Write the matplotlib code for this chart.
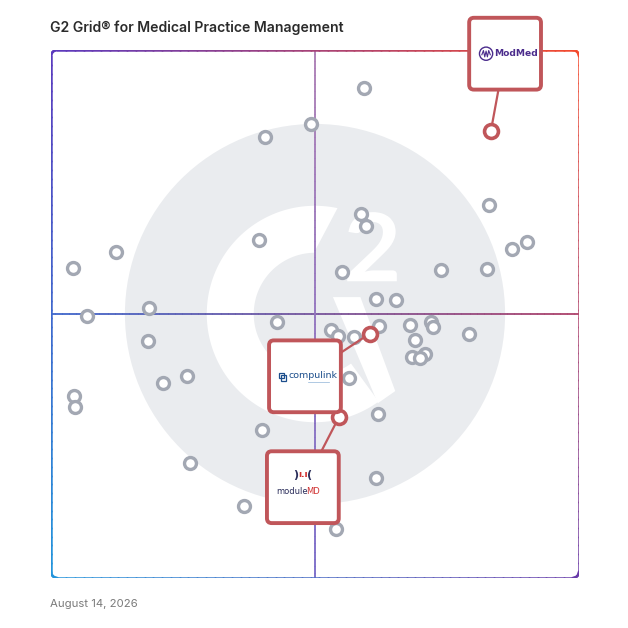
import numpy as np
import matplotlib
matplotlib.use("Agg")
import matplotlib.pyplot as plt
from matplotlib.collections import LineCollection
from matplotlib.patches import Circle, Polygon, FancyBboxPatch, PathPatch, Rectangle
from matplotlib.textpath import TextPath
from matplotlib.font_manager import FontProperties
from matplotlib.transforms import Affine2D

# grid scores, x = satisfaction, y = market presence (0-100)
other_x = [59.3, 49.2, 40.5, 83.0, 58.7, 59.7, 39.4, 12.3, 90.2, 87.3, 4.2,
           55.1, 73.9, 82.6, 61.6, 65.3, 18.6, 6.8, 42.8, 62.1, 53.0, 54.4,
           57.4, 68.0, 72.0, 72.3, 79.2, 68.9, 18.4, 70.8, 68.4, 69.9, 56.4,
           25.8, 21.2, 4.4, 4.5, 61.9, 40.0, 26.3, 61.6, 36.6, 54.0]
other_y = [92.8, 86.0, 83.5, 70.6, 68.9, 66.6, 64.1, 61.7, 63.6, 62.4, 58.8,
           57.9, 58.3, 58.6, 52.9, 52.6, 51.2, 49.7, 48.4, 47.8, 46.9, 45.9,
           45.7, 48.0, 48.4, 47.6, 46.3, 45.0, 44.8, 42.5, 41.9, 41.6, 37.8,
           38.3, 37.0, 34.5, 32.4, 31.1, 28.1, 21.8, 19.0, 13.7, 9.3]

featured_names = ["ModMed", "compulink", "moduleMD"]
featured_x = [83.3, 60.4, 54.5]
featured_y = [84.6, 46.3, 30.4]

title = "G2 Grid\u00ae for Medical Practice Management"
date_label = "August 14, 2026"

# logo card centres (layout only)
card_pos = [(86.0, 99.3), (48.1, 38.2), (47.7, 17.2)]
card_size = 13.6

RED = "#c0565a"
GREY_DOT = "#a3a8b3"

TL = np.array([92, 58, 190]) / 255
TR = np.array([245, 75, 45]) / 255
BL = np.array([35, 150, 220]) / 255
BR = np.array([105, 60, 170]) / 255


def corner_mix(u, v):
    u = np.clip(u, 0, 1)[:, None]
    v = np.clip(v, 0, 1)[:, None]
    return TL * (1 - u) * v + TR * u * v + BL * (1 - u) * (1 - v) + BR * u * (1 - v)


def rounded_rect(x0, y0, x1, y1, r, n=60):
    pts = []
    def arc(cx, cy, a0, a1):
        t = np.radians(np.linspace(a0, a1, 12))
        return list(zip(cx + r * np.cos(t), cy + r * np.sin(t)))
    def edge(p, q):
        return list(zip(np.linspace(p[0], q[0], n), np.linspace(p[1], q[1], n)))
    pts += edge((x0 + r, y1), (x1 - r, y1))
    pts += arc(x1 - r, y1 - r, 90, 0)
    pts += edge((x1, y1 - r), (x1, y0 + r))
    pts += arc(x1 - r, y0 + r, 0, -90)
    pts += edge((x1 - r, y0), (x0 + r, y0))
    pts += arc(x0 + r, y0 + r, -90, -180)
    pts += edge((x0, y0 + r), (x0, y1 - r))
    pts += arc(x0 + r, y1 - r, 180, 90)
    return np.array(pts)


def gradient_line(ax, pts, colors, lw, alpha=1.0, z=2):
    segs = np.stack([pts[:-1], pts[1:]], axis=1)
    lc = LineCollection(segs, colors=colors[:-1], linewidths=lw, alpha=alpha,
                        zorder=z, capstyle="round")
    ax.add_collection(lc)


def draw_g2_logo(ax, cx=50, cy=50):
    ax.add_patch(Circle((cx, cy), 36, color="#eaecef", lw=0, zorder=0))
    # the "G": open ring plus diagonal leg
    t_out = np.radians(np.linspace(78, 306, 120))
    t_in = np.radians(np.linspace(306, 91, 120))
    ring = np.concatenate([
        np.c_[cx + 20.5 * np.cos(t_out), cy + 20.5 * np.sin(t_out)],
        np.c_[cx + 11.6 * np.cos(t_in), cy + 11.6 * np.sin(t_in)]])
    ax.add_patch(Polygon(ring, closed=True, color="white", lw=0, zorder=0.5))
    leg = [(cx + 3.4, cy + 3.2), (cx + 8.6, cy + 3.2),
           (cx + 15.2, cy - 14.6), (cx + 11.9, cy - 16.9)]
    ax.add_patch(Polygon(leg, closed=True, color="white", lw=0, zorder=0.5))
    # the "2"
    tp = TextPath((0, 0), "2", size=10, prop=FontProperties(family="Lato", weight="bold"))
    ext = tp.get_extents()
    bx0, bx1, by0, by1 = 56.1, 65.5, 56.2, 69.3
    tr = (Affine2D().translate(-ext.x0, -ext.y0)
          .scale((bx1 - bx0) / ext.width, (by1 - by0) / ext.height)
          .translate(bx0, by0))
    ax.add_patch(PathPatch(tr.transform_path(tp), color="white", lw=0, zorder=0.5))


def draw_logo(ax, name, cx, cy):
    if name == "ModMed":
        purple = "#4b2c8c"
        ax.add_patch(Circle((cx - 3.6, cy), 1.25, fill=False, ec=purple, lw=1.0,
                            zorder=7, clip_on=False))
        wx = cx - 3.6 + np.array([-0.8, -0.5, -0.25, 0.0, 0.25, 0.5, 0.8])
        wy = cy + np.array([-0.2, 0.6, -0.6, 0.5, -0.6, 0.6, -0.2])
        ax.plot(wx, wy, color=purple, lw=0.8, zorder=7, clip_on=False)
        ax.text(cx - 2.0, cy, "ModMed", color=purple, fontsize=6.6, fontweight="bold",
                family="DejaVu Sans", ha="left", va="center", zorder=7, clip_on=False)
    elif name == "compulink":
        blue = "#1c4e8c"
        # two interlocked squares icon
        ax.add_patch(Rectangle((cx - 5.0, cy - 0.4), 1.1, 1.1, fill=False, ec=blue,
                               lw=0.9, zorder=7))
        ax.add_patch(Rectangle((cx - 4.6, cy - 0.9), 1.1, 1.1, fill=False, ec=blue,
                               lw=0.9, zorder=7))
        ax.text(cx - 3.1, cy + 0.1, "compulink", color=blue, fontsize=6.8,
                family="DejaVu Sans", ha="left", va="center", zorder=7)
        ax.plot([cx + 0.6, cx + 4.6], [cy - 1.0, cy - 1.0], color="#8fb4d8", lw=0.5,
                zorder=7)
    else:
        navy = "#2a2d5a"
        ax.text(cx - 1.3, cy + 2.4, ")", color=navy, fontsize=8, ha="center",
                va="center", zorder=7, fontweight="bold")
        ax.text(cx, cy + 2.4, "\u0131.\u0131", color="#d03030", fontsize=6.5,
                ha="center", va="center", zorder=7, fontweight="bold")
        ax.text(cx + 1.3, cy + 2.4, "(", color=navy, fontsize=8, ha="center",
                va="center", zorder=7, fontweight="bold")
        ax.text(cx + 0.9, cy - 0.8, "module", color=navy, fontsize=6.0, ha="right",
                va="center", zorder=7)
        ax.text(cx + 0.7, cy - 0.8, "MD", color="#d03030", fontsize=6.0, ha="left",
                va="center", zorder=7)


fig = plt.figure(figsize=(6.28, 6.28), dpi=100)
fig.patch.set_facecolor("white")
ax = fig.add_axes([51 / 628, 50 / 628, 528 / 628, 528 / 628])
ax.set_xlim(0, 100)
ax.set_ylim(0, 100)
ax.axis("off")

draw_g2_logo(ax)

# quadrant lines
hx = np.linspace(0, 100, 300)
hpts = np.c_[hx, np.full_like(hx, 50)]
hcol = corner_mix(hx / 100, np.full_like(hx, 0.5))
gradient_line(ax, hpts, hcol, 1.3, alpha=0.9, z=1)
vy = np.linspace(0, 100, 300)
vpts = np.c_[np.full_like(vy, 50), vy]
vtop = np.array([172, 125, 180]) / 255
vbot = np.array([120, 105, 200]) / 255
vcol = vbot + (vtop - vbot) * (vy / 100)[:, None]
gradient_line(ax, vpts, vcol, 1.3, alpha=0.9, z=1)

# outer frame
fpts = rounded_rect(0, 0, 100, 100, 1.2)
gradient_line(ax, fpts, corner_mix(fpts[:, 0] / 100, fpts[:, 1] / 100), 1.8, z=2)

# vendors
ax.plot(other_x, other_y, "o", ms=8.6, mfc="white", mec=GREY_DOT, mew=2.4,
        ls="none", zorder=3)

for name, x, y, (cx, cy) in zip(featured_names, featured_x, featured_y, card_pos):
    ax.plot([cx, x], [cy, y], color=RED, lw=1.6, zorder=4, clip_on=False)
    ax.plot(x, y, "o", ms=10, mfc="white", mec=RED, mew=2.6, zorder=5)
    s = card_size
    ax.add_patch(FancyBboxPatch((cx - s / 2, cy - s / 2), s, s,
                                boxstyle="round,pad=0,rounding_size=0.9",
                                fc="white", ec=RED, lw=2.8, zorder=6, clip_on=False))
    draw_logo(ax, name, cx, cy)

fig.text(50 / 628, 1 - 28 / 628, title, fontsize=10.1, fontweight="semibold",
         family="Inter", color="#2b2b2b", ha="left", va="center")
fig.text(50 / 628, 1 - 604 / 628, date_label, fontsize=8.2, family="Inter",
         color="#7a7a7a", ha="left", va="center")

fig.savefig("out.png", dpi=100, facecolor="white")
